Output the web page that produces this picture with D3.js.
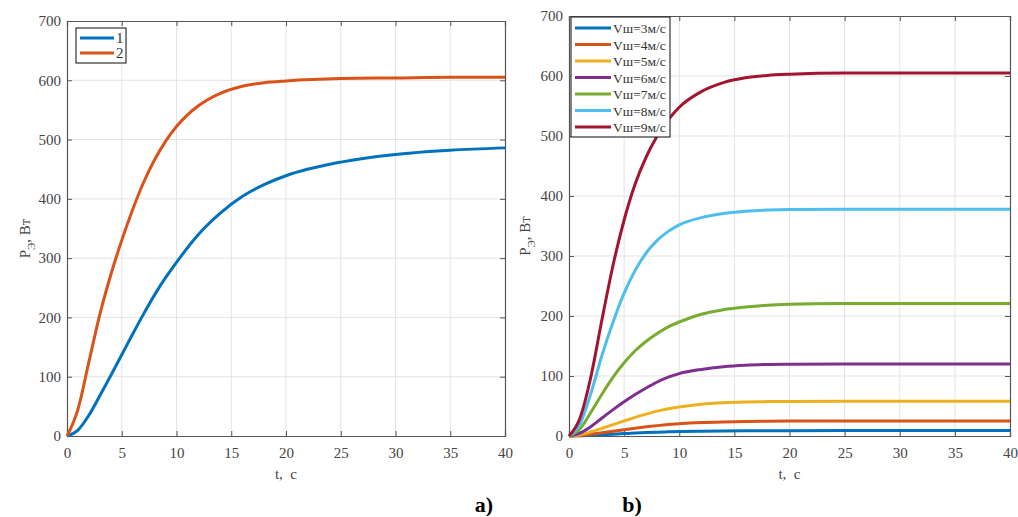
<!DOCTYPE html>
<html><head><meta charset="utf-8">
<script src="https://cdn.jsdelivr.net/npm/d3@7"></script>
<style>
body{margin:0;background:#fff;}
text{font-family:"Liberation Serif","Times New Roman",serif;}
</style></head>
<body><svg id="c" width="1018" height="517"></svg>
<script>
// ---- data ----
const tA = [0,1,2,3,4,5,6,7,8,9,10,12,14,16,18,20,25,30,35,40];
const curve1 = [0,10,35,68,102,137,172,206,238,267,293,340,376,404,424,439,462,475,482,486];
const curve2 = [0,45,125,205,272,330,382,428,466,497,522,557,578,590,596,599,603,604,605,605];
const seriesA = [{name:"1", values:curve1},{name:"2", values:curve2}];

const tB = [0,1,2,3,4,5,6,7,8,9,10,12,14,16,18,20,25,30,35,40];
const v3 = [0,0.4,1.2,2.1,3.1,4,4.9,5.7,6.4,6.9,7.4,8,8.4,8.7,8.8,8.9,9,9,9,9];
const v4 = [0,1,3,5.5,8,10.5,13,15.3,17.3,19,20.4,22.4,23.5,24.2,24.6,24.8,25,25,25,25];
const v5 = [0,2,7,13,19,25,31,36.5,41.5,45.5,48.5,53,55.5,56.7,57.3,57.6,58,58,58,58];
const v6 = [0,5,16,30,44,57,69,80,90,98,104,111,115.5,118,119.2,119.6,120,120,120,120];
const v7 = [0,12,40,70,98,122,142,158,171,182,190,203,210.5,215,218,219.5,220.8,221,221,221];
const v8 = [0,20,72,135,190,238,276,305,326,341,352,364,371,374.5,376.5,377.5,378,378,378,378];
const v9 = [0,30,100,195,285,360,420,465,500,527,548,574,589,597,601,603,605,605,605,605];
const namesB = ["Vш=3м/с","Vш=4м/с","Vш=5м/с","Vш=6м/с","Vш=7м/с","Vш=8м/с","Vш=9м/с"];
const seriesB = [v3,v4,v5,v6,v7,v8,v9].map((v,i)=>({name:namesB[i], values:v}));

const xTicks = [0,5,10,15,20,25,30,35,40];
const yTicks = [0,100,200,300,400,500,600,700];
const colors = ["#0072BD","#D95319","#EDB120","#7E2F8E","#77AC30","#4DBEEE","#A2142F"];

const svg = d3.select("#c");

function panel(box, t, series, legend){
  const x = d3.scaleLinear().domain([0,40]).range([box.x0, box.x1]);
  const y = d3.scaleLinear().domain([0,700]).range([box.y0, box.y1]);
  const g = svg.append("g");
  // grid
  g.append("g").selectAll("line").data(xTicks.slice(1,-1)).join("line")
    .attr("x1",d=>x(d)).attr("x2",d=>x(d)).attr("y1",box.y0).attr("y2",box.y1)
    .attr("stroke","#e3e3e3").attr("stroke-width",1);
  g.append("g").selectAll("line").data(yTicks.slice(1,-1)).join("line")
    .attr("y1",d=>y(d)).attr("y2",d=>y(d)).attr("x1",box.x0).attr("x2",box.x1)
    .attr("stroke","#e3e3e3").attr("stroke-width",1);
  // axes
  const ax = g.append("g").attr("transform",`translate(0,${box.y0})`)
    .call(d3.axisBottom(x).tickValues(xTicks).tickSize(-5).tickPadding(11));
  const ay = g.append("g").attr("transform",`translate(${box.x0},0)`)
    .call(d3.axisLeft(y).tickValues(yTicks).tickSize(-5).tickPadding(6));
  const axT = g.append("g").attr("transform",`translate(0,${box.y1})`)
    .call(d3.axisTop(x).tickValues(xTicks).tickSize(-5).tickFormat(""));
  const ayR = g.append("g").attr("transform",`translate(${box.x1},0)`)
    .call(d3.axisRight(y).tickValues(yTicks).tickSize(-5).tickFormat(""));
  [ax,ay,axT,ayR].forEach(a=>{
    a.select(".domain").attr("stroke","#555").attr("stroke-width",1.2);
    a.selectAll(".tick line").attr("stroke","#555");
    a.selectAll(".tick text").attr("fill","#444").style("font-size","15px")
      .style("font-family","'Liberation Serif',serif");
  });
  // lines
  const line = d3.line().x((d,i)=>x(t[i])).y(d=>y(d)).curve(d3.curveMonotoneX);
  g.append("g").selectAll("path").data(series).join("path")
    .attr("d",d=>line(d.values)).attr("fill","none")
    .attr("stroke",(d,i)=>colors[i]).attr("stroke-width",3).attr("stroke-linejoin","round");
  // x label
  g.append("text").attr("x",(box.x0+box.x1)/2).attr("y",box.y0+43).attr("text-anchor","middle")
    .attr("fill","#444").style("font-size","15px").attr("xml:space","preserve").text("t,  c");
  // y label
  const yl = g.append("text").attr("transform",`translate(${box.x0-box.ylOff},${(box.y0+box.y1)/2+10}) rotate(-90)`)
    .attr("text-anchor","middle").attr("fill","#444").style("font-size","15px");
  yl.append("tspan").text("P");
  yl.append("tspan").attr("dy",5).style("font-size","11px").text("Э");
  yl.append("tspan").attr("dy",-5).text(", Вт");
  // legend
  const L = legend;
  const lg = g.append("g");
  lg.append("rect").attr("x",L.x).attr("y",L.y).attr("width",L.w).attr("height",L.h)
    .attr("fill","#fff").attr("stroke","#333").attr("stroke-width",1.2);
  series.forEach((s,i)=>{
    const yy = L.y + L.pad + i*L.step;
    lg.append("line").attr("x1",L.x+4).attr("x2",L.x+4+L.len).attr("y1",yy).attr("y2",yy)
      .attr("stroke",colors[i]).attr("stroke-width",3);
    lg.append("text").attr("x",L.x+6+L.len).attr("y",yy+5).attr("fill","#333")
      .style("font-size",L.fs+"px").text(s.name);
  });
}

panel({x0:67,x1:505,y0:436,y1:21,ylOff:37}, tA, seriesA,
  {x:76,y:28,w:50,h:35,pad:10,step:15,len:34,fs:15});
panel({x0:569,x1:1010,y0:436,y1:16,ylOff:39}, tB, seriesB,
  {x:571,y:17,w:99,h:120,pad:11,step:16.5,len:36,fs:13.5});

svg.append("text").attr("x",484).attr("y",512).attr("text-anchor","middle")
  .style("font-size","22px").style("font-weight","bold").text("a)");
svg.append("text").attr("x",632).attr("y",512).attr("text-anchor","middle")
  .style("font-size","22px").style("font-weight","bold").text("b)");
</script></body></html>
